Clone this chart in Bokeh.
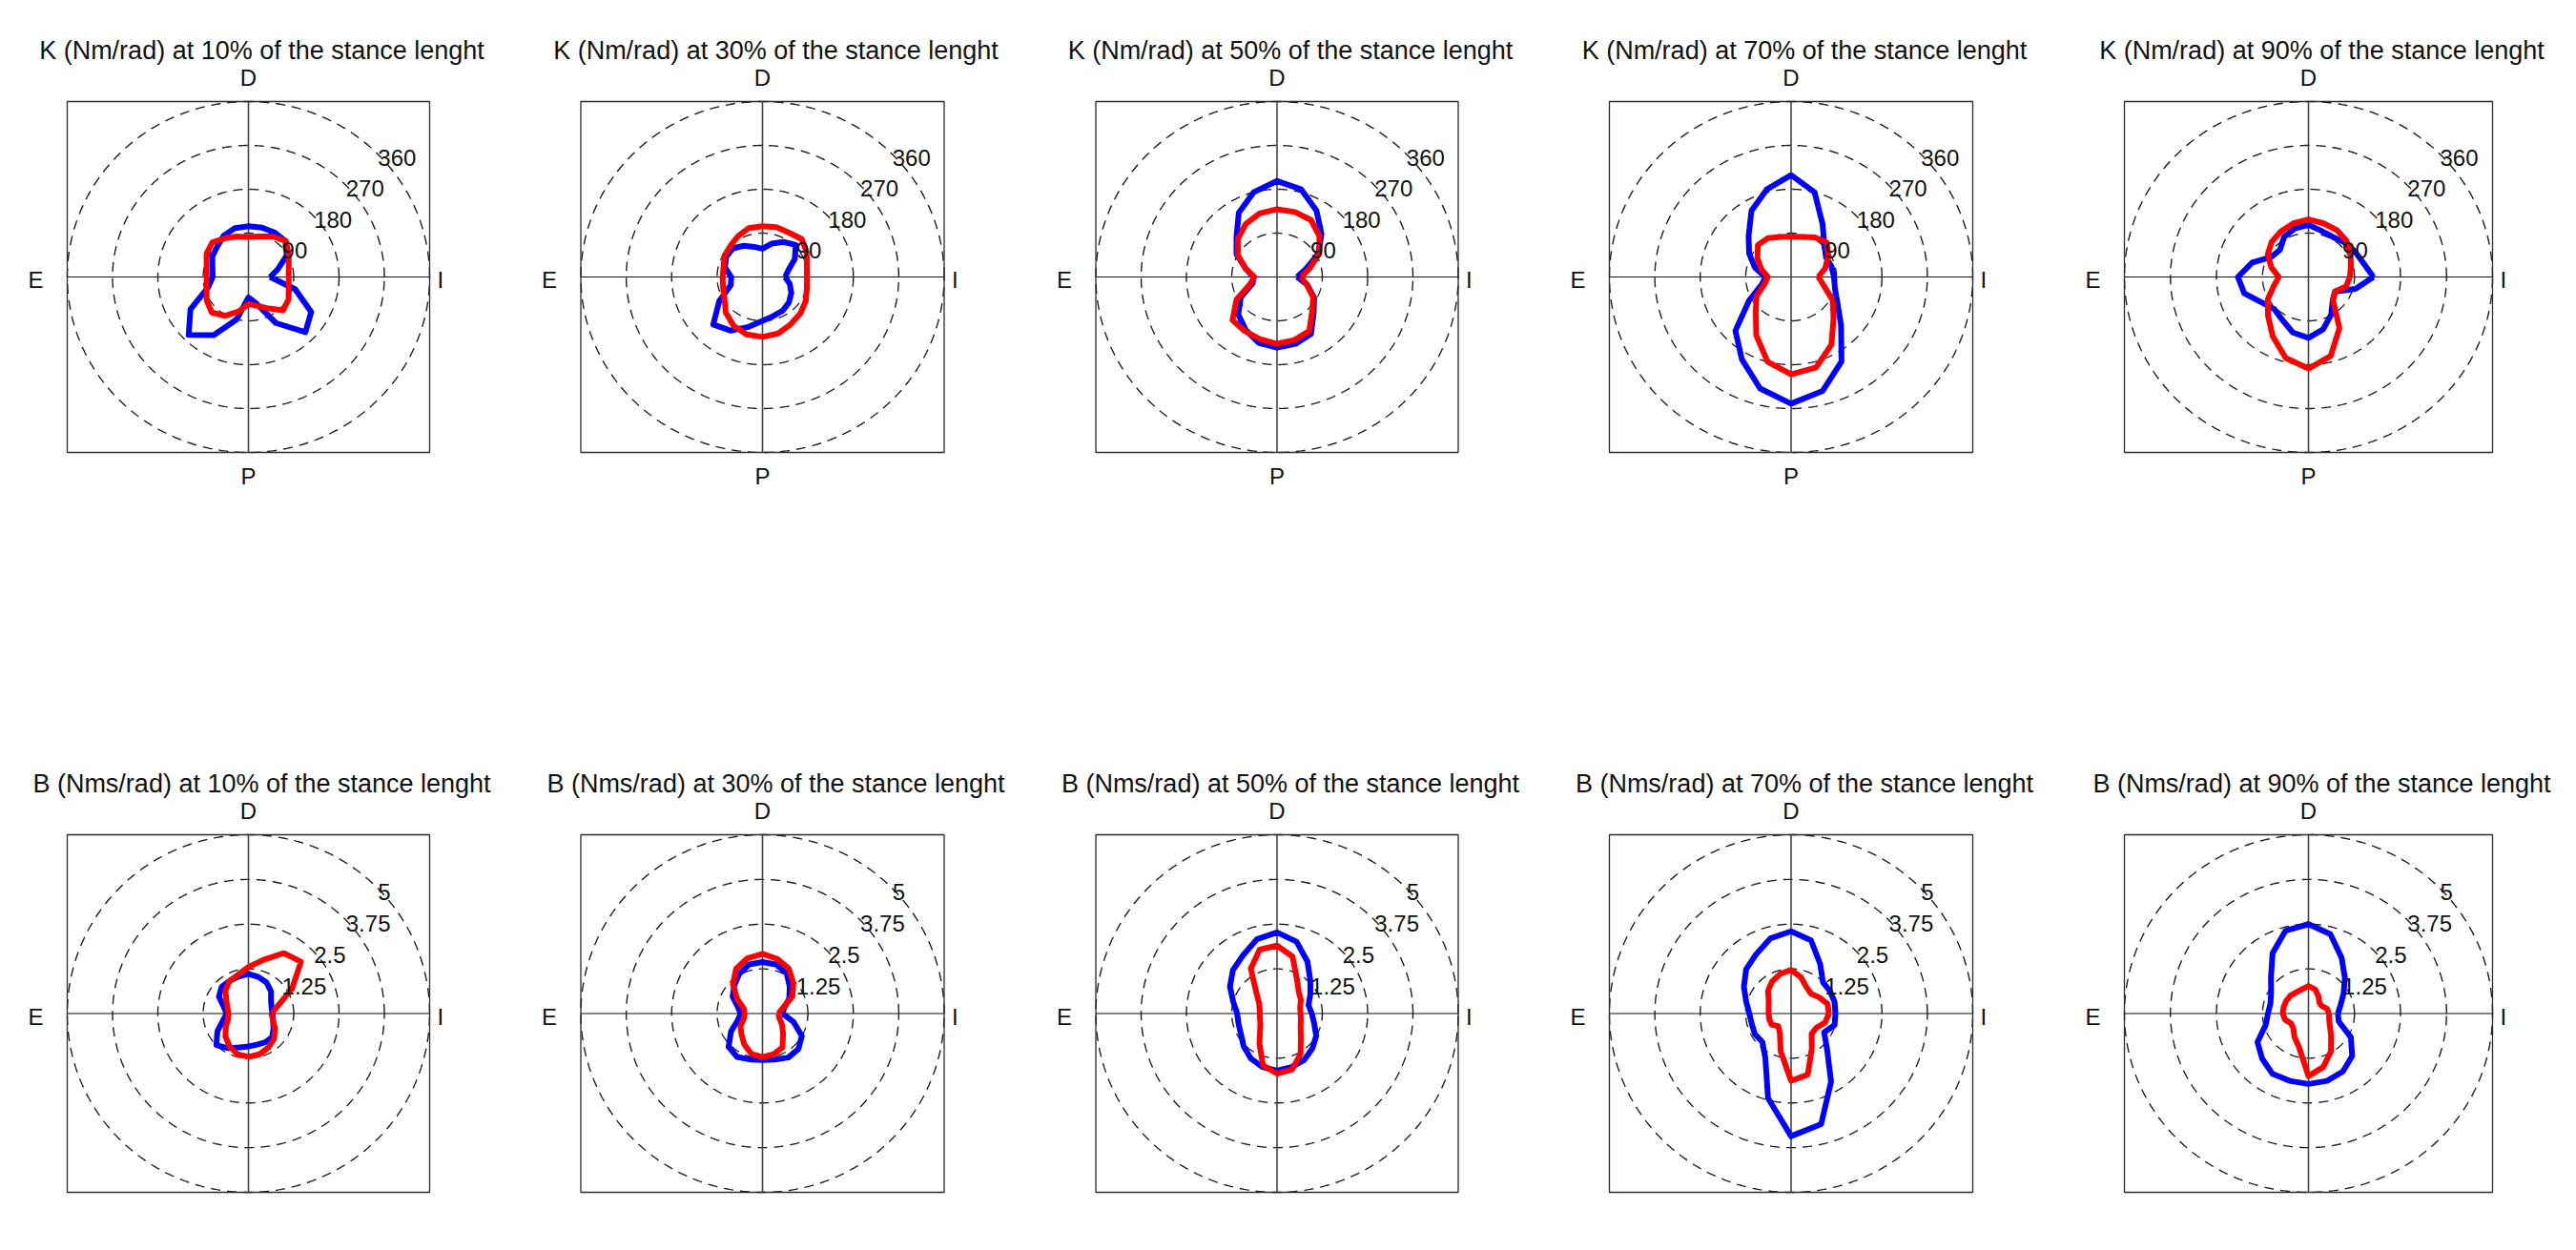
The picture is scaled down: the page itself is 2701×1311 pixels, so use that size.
import numpy as np
from bokeh.plotting import figure
from bokeh.layouts import column, row
from bokeh.models import Range1d
from bokeh.core.properties import value
from bokeh.embed import file_html
from bokeh.resources import INLINE

# ---------------- data (radius at each angle, angle measured CCW from "I") -------------
ANGLES_DEG = list(range(0, 360, 15))

K10_BLUE = [43, 60, 88, 104, 105, 105, 104, 104, 98, 88, 83, 74, 71, 83, 133, 168, 138, 90, 42, 55, 109, 160, 144, 96]
K10_RED = [80, 83, 92, 105, 96, 86, 82, 86, 92, 101, 96, 86, 83, 86, 96, 103, 92, 73, 55, 61, 74, 97, 92, 83]
K30_BLUE = [45, 53, 74, 93, 83, 71, 58, 64, 74, 83, 83, 77, 62, 65, 99, 138, 127, 106, 90, 83, 80, 74, 66, 56]
K30_RED = [88, 91, 101, 110, 105, 106, 104, 104, 97, 90, 87, 80, 79, 81, 87, 103, 115, 122, 123, 120, 112, 106, 99, 91]
K50_BLUE = [40, 58, 95, 125, 157, 186, 197, 180, 152, 114, 93, 64, 47, 50, 83, 109, 125, 140, 145, 142, 135, 103, 85, 62]
K50_RED = [48, 67, 97, 119, 135, 138, 139, 135, 125, 110, 90, 64, 45, 55, 93, 125, 128, 132, 137, 134, 128, 99, 83, 61]
K70_BLUE = [85, 83, 80, 93, 125, 180, 209, 186, 157, 119, 96, 74, 51, 60, 96, 156, 195, 237, 260, 242, 200, 140, 106, 90]
K70_RED = [54, 70, 85, 100, 94, 85, 83, 85, 92, 93, 77, 61, 46, 54, 79, 99, 138, 180, 200, 192, 160, 119, 95, 67]
K90_BLUE = [127, 111, 105, 100, 95, 98, 107, 103, 95, 79, 83, 114, 138, 130, 105, 94, 102, 118, 125, 111, 89, 67, 60, 95]
K90_RED = [81, 86, 95, 105, 111, 114, 118, 114, 108, 102, 92, 75, 58, 70, 92, 112, 140, 172, 188, 168, 121, 68, 60, 76]

B10_BLUE = [0.66, 0.66, 0.72, 0.88, 1.0, 1.06, 1.11, 1.07, 1.05, 1.05, 0.94, 0.7, 0.6, 0.72, 0.99, 1.25, 1.12, 0.98, 0.92, 0.9, 0.93, 0.93, 0.8, 0.7]
B10_RED = [0.64, 0.84, 1.39, 2.05, 1.95, 1.55, 1.3, 1.12, 1.05, 0.9, 0.7, 0.6, 0.55, 0.58, 0.72, 0.9, 1.05, 1.18, 1.21, 1.18, 1.1, 1.0, 0.85, 0.7]
B30_BLUE = [0.55, 0.62, 0.85, 1.06, 1.32, 1.42, 1.44, 1.42, 1.28, 1.1, 0.95, 0.7, 0.6, 0.7, 1.0, 1.32, 1.4, 1.33, 1.3, 1.33, 1.42, 1.4, 1.25, 0.88]
B30_RED = [0.44, 0.57, 0.95, 1.2, 1.45, 1.58, 1.67, 1.6, 1.45, 1.15, 0.8, 0.53, 0.49, 0.53, 0.7, 0.82, 1.0, 1.17, 1.22, 1.18, 1.1, 0.8, 0.62, 0.48]
B50_BLUE = [0.96, 0.9, 1.06, 1.3, 1.68, 2.08, 2.27, 2.15, 1.88, 1.72, 1.5, 1.25, 1.1, 1.1, 1.15, 1.3, 1.45, 1.55, 1.6, 1.55, 1.5, 1.38, 1.25, 1.06]
B50_RED = [0.65, 0.66, 0.76, 0.85, 1.1, 1.65, 1.9, 1.85, 1.45, 0.8, 0.57, 0.5, 0.47, 0.49, 0.53, 0.66, 0.97, 1.5, 1.68, 1.62, 1.3, 0.93, 0.75, 0.68]
B70_BLUE = [1.22, 1.24, 1.24, 1.24, 1.6, 2.12, 2.3, 2.18, 1.92, 1.75, 1.5, 1.28, 1.15, 1.12, 1.15, 1.12, 1.42, 2.45, 3.43, 3.2, 2.2, 1.4, 1.05, 1.24]
B70_RED = [1.04, 1.04, 0.9, 0.78, 0.85, 1.05, 1.22, 1.15, 1.04, 0.9, 0.71, 0.64, 0.62, 0.62, 0.62, 0.5, 0.62, 1.1, 1.88, 1.77, 1.14, 0.8, 0.8, 0.97]
B90_BLUE = [0.8, 0.9, 1.1, 1.4, 1.8, 2.3, 2.5, 2.4, 1.95, 1.44, 1.17, 1.07, 1.1, 1.2, 1.6, 1.78, 1.95, 1.95, 1.97, 1.95, 1.87, 1.68, 1.33, 0.85]
B90_RED = [0.56, 0.52, 0.42, 0.42, 0.55, 0.7, 0.77, 0.7, 0.68, 0.7, 0.7, 0.7, 0.7, 0.66, 0.55, 0.58, 0.76, 0.98, 1.75, 1.55, 1.22, 0.87, 0.67, 0.58]

PERCENTS = [10, 30, 50, 70, 90]
K_RINGS = [90, 180, 270, 360]
K_RING_LABELS = ["90", "180", "270", "360"]
B_RINGS = [1.25, 2.5, 3.75, 5]
B_RING_LABELS = ["1.25", "2.5", "3.75", "5"]
DIR_LABELS = ["D", "E", "I", "P"]

K_CURVES = [(K10_BLUE, K10_RED), (K30_BLUE, K30_RED), (K50_BLUE, K50_RED),
            (K70_BLUE, K70_RED), (K90_BLUE, K90_RED)]
B_CURVES = [(B10_BLUE, B10_RED), (B30_BLUE, B30_RED), (B50_BLUE, B50_RED),
            (B70_BLUE, B70_RED), (B90_BLUE, B90_RED)]

# ---------------- layout geometry (page pixels; Bokeh page body has no margin) ----------
MARGIN = 0
FIG_W = 540
ROW_H = [655, 655]
CX = [260, 799, 1338.5, 1877.5, 2420]
CY = [290, 1062.5]
HALF_W = [190, 190.5, 190, 190.5, 193]
HALF_H = [184, 187.5]

FONT = value("Liberation Sans")
TXT = "#111111"


def make_panel(i, j, title, curves, rings, ring_labels, show_p):
    rmax = rings[-1]
    left_px = MARGIN + FIG_W * j
    top_px = MARGIN + sum(ROW_H[:i])
    cx = CX[j] - left_px
    cy = CY[i] - top_px
    sx = rmax / HALF_W[j]
    sy = rmax / HALF_H[i]
    p = figure(width=FIG_W, height=ROW_H[i],
               x_range=Range1d(-cx * sx, (FIG_W - cx) * sx),
               y_range=Range1d(-(ROW_H[i] - cy) * sy, cy * sy),
               output_backend="svg", toolbar_location=None,
               x_axis_type=None, y_axis_type=None, min_border=0,
               outline_line_color=None, background_fill_color="white",
               border_fill_color="white")
    p.grid.visible = False

    # dashed rings
    t = np.linspace(0, 2 * np.pi, 721)
    for r in rings:
        p.line(r * np.cos(t), r * np.sin(t), line_color="#1e1e1e", line_width=1.4,
               line_dash="10 7")
    # box and cross
    p.quad(left=[-rmax], right=[rmax], bottom=[-rmax], top=[rmax],
           fill_color=None, line_color="#2a2a2a", line_width=1.3)
    p.segment(x0=[-rmax], y0=[0], x1=[rmax], y1=[0], line_color="#111111", line_width=1.2)
    p.segment(x0=[0], y0=[-rmax], x1=[0], y1=[rmax], line_color="#444444", line_width=1.6)

    # curves
    th = np.radians(ANGLES_DEG + [ANGLES_DEG[0]])
    for vals, col in zip(curves, ["#0000ff", "#ff0000"]):
        rr = np.array(vals + [vals[0]], dtype=float)
        p.line(rr * np.cos(th), rr * np.sin(th), line_color=col, line_width=6,
               line_join="round")

    # ring labels
    c45 = np.cos(np.pi / 4)
    p.text(x=[r * c45 + 1.5 * sx for r in rings],
           y=[r * c45 - 5 * sy for r in rings],
           text=ring_labels, text_font=FONT, text_font_size="24px",
           text_color=TXT, text_align="left", text_baseline="middle")

    # direction labels
    p.text(x=[0], y=[rmax + 25 * sy], text=[DIR_LABELS[0]], text_font=FONT,
           text_font_size="24px", text_color=TXT, text_align="center",
           text_baseline="middle")
    p.text(x=[-rmax - 25 * sx], y=[-3 * sy], text=[DIR_LABELS[1]], text_font=FONT,
           text_font_size="24px", text_color=TXT, text_align="right",
           text_baseline="middle")
    p.text(x=[rmax + 8 * sx], y=[-3 * sy], text=[DIR_LABELS[2]], text_font=FONT,
           text_font_size="24px", text_color=TXT, text_align="left",
           text_baseline="middle")
    if show_p:
        p.text(x=[0], y=[-rmax - 25 * sy], text=[DIR_LABELS[3]], text_font=FONT,
               text_font_size="24px", text_color=TXT, text_align="center",
               text_baseline="middle")

    # title
    p.text(x=[14 * sx], y=[rmax + 54 * sy], text=[title], text_font=FONT,
           text_font_size="27px", text_color=TXT, text_align="center",
           text_baseline="middle")
    return p


top = [make_panel(0, j, f"K (Nm/rad) at {pc}% of the stance lenght", K_CURVES[j],
                  K_RINGS, K_RING_LABELS, True) for j, pc in enumerate(PERCENTS)]
bot = [make_panel(1, j, f"B (Nms/rad) at {pc}% of the stance lenght", B_CURVES[j],
                  B_RINGS, B_RING_LABELS, False) for j, pc in enumerate(PERCENTS)]

layout = column(row(*top), row(*bot))
open("out.html", "w").write(file_html(layout, INLINE))
